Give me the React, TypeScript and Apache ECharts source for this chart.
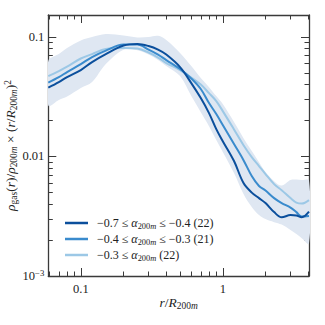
import React, { useEffect, useRef } from 'react';
import * as echarts from 'echarts';

// r / R200m sample points
const radius = [0.059, 0.07, 0.08, 0.1, 0.12, 0.15, 0.2, 0.25, 0.3, 0.35, 0.4, 0.5, 0.6, 0.7, 0.8, 0.9, 1.0, 1.2, 1.4, 1.6, 1.8, 2.0, 2.3, 2.6, 3.0, 3.3, 3.6, 4.05];
// -0.7 <= alpha <= -0.4 (22)
const profileLow = [0.0376, 0.0418, 0.046, 0.0527, 0.0614, 0.0716, 0.0844, 0.0869, 0.0836, 0.0781, 0.071, 0.0558, 0.041, 0.0307, 0.023, 0.0169, 0.0134, 0.00914, 0.00598, 0.00498, 0.00448, 0.00407, 0.00342, 0.0031, 0.00323, 0.0032, 0.0031, 0.00345];
// -0.4 <= alpha <= -0.3 (21)
const profileMid = [0.0414, 0.046, 0.0507, 0.0591, 0.0676, 0.0765, 0.086, 0.086, 0.0781, 0.071, 0.0638, 0.0537, 0.0448, 0.0366, 0.0279, 0.0226, 0.0183, 0.0127, 0.0093, 0.00684, 0.00565, 0.00518, 0.00448, 0.00407, 0.00373, 0.00342, 0.00314, 0.00317];
// -0.3 <= alpha (22)
const profileHigh = [0.0469, 0.0517, 0.0563, 0.0658, 0.0716, 0.079, 0.0805, 0.0797, 0.0738, 0.067, 0.0603, 0.0527, 0.0456, 0.0398, 0.0338, 0.029, 0.0239, 0.0168, 0.0124, 0.00986, 0.0083, 0.00711, 0.00586, 0.00522, 0.00448, 0.00411, 0.00403, 0.00431];
// scatter band
const bandUpper = [0.0627, 0.0716, 0.0805, 0.093, 0.0994, 0.1054, 0.1023, 0.0985, 0.0994, 0.1019, 0.0938, 0.0731, 0.0569, 0.0452, 0.0379, 0.0319, 0.0274, 0.0194, 0.0142, 0.0111, 0.00895, 0.0074, 0.0062, 0.0057, 0.00634, 0.0064, 0.00634, 0.00628];
const bandLower = [0.0266, 0.0296, 0.0316, 0.0373, 0.0418, 0.0591, 0.078, 0.077, 0.071, 0.064, 0.057, 0.0469, 0.0319, 0.0234, 0.0179, 0.0137, 0.0109, 0.00725, 0.00484, 0.00377, 0.00323, 0.00299, 0.00282, 0.00269, 0.00242, 0.00224, 0.00207, 0.00187];

const seriesNames = ['low', 'mid', 'high'];
const legendLabels = [
  '{n|\u22120.7 \u2264 }{i|\u03b1}{s|200}{si|m}{n| \u2264 \u22120.4 (22)}',
  '{n|\u22120.4 \u2264 }{i|\u03b1}{s|200}{si|m}{n| \u2264 \u22120.3 (21)}',
  '{n|\u22120.3 \u2264 }{i|\u03b1}{s|200}{si|m}{n| (22)}',
];

const xRange = [0.059, 4.05];
const yRange = [0.001, 0.152];
const xMajorTicks = [0.1, 1];
const xMinorTicks = [0.06, 0.07, 0.08, 0.09, 0.2, 0.3, 0.4, 0.5, 0.6, 0.7, 0.8, 0.9, 2, 3, 4];
const yMajorTicks = [0.001, 0.01, 0.1];
const yMinorTicks = [0.002, 0.003, 0.004, 0.005, 0.006, 0.007, 0.008, 0.009, 0.02, 0.03, 0.04, 0.05, 0.06, 0.07, 0.08, 0.09];

const FONT = 'Liberation Serif';
const FRAME = '#3a3a3a';
const TEXT = '#222';
const colors = ['#0b4f9c', '#3a8bcd', '#9cc8e6'];
const bandColor = '#dfe7f2';

const lg = (v: number) => Math.log10(v);

const rich = (size: number, shift: number) => ({
  n: { fontFamily: FONT, fontSize: size, color: TEXT },
  i: { fontFamily: FONT, fontSize: size, color: TEXT, fontStyle: 'italic' },
  s: { fontFamily: FONT, fontSize: size * 0.7, color: TEXT, padding: [shift, 0, 0, 0] },
  si: { fontFamily: FONT, fontSize: size * 0.7, color: TEXT, fontStyle: 'italic', padding: [shift, 0, 0, 0] },
  p: { fontFamily: FONT, fontSize: size * 0.7, color: TEXT, padding: [0, 0, shift, 0] },
});

export default function App() {
  const ref = useRef<HTMLDivElement>(null);
  useEffect(() => {
    if (!ref.current) return;
    const chart = echarts.init(ref.current, null, { renderer: 'svg' });

    const xMin = lg(xRange[0]);
    const xMax = lg(xRange[1]);
    const yMin = lg(yRange[0]);
    const yMax = lg(yRange[1]);

    const fmtX = (v: number) => {
      const p = Math.round(v);
      return String(Number(Math.pow(10, p).toPrecision(1)));
    };
    const fmtY = (v: number) => {
      const p = Math.round(v);
      if (p <= -3) return '{n|10}{p|\u2212' + String(-p) + '}';
      return '{n|' + String(Number(Math.pow(10, p).toPrecision(1))) + '}';
    };

    const lineStyleFrame = { color: FRAME, width: 1.3 };
    const tickStyle = { color: FRAME, width: 1 };

    const xBase = { type: 'value', min: xMin, max: xMax, splitLine: { show: false } };
    const yBase = { type: 'value', min: yMin, max: yMax, splitLine: { show: false } };

    const xAxis = [
      {
        ...xBase,
        position: 'bottom',
        axisLine: { show: true, onZero: false, lineStyle: lineStyleFrame },
        axisTick: { show: true, inside: true, length: 8, customValues: xMajorTicks.map(lg), lineStyle: tickStyle },
        axisLabel: { show: true, customValues: xMajorTicks.map(lg), formatter: fmtX, margin: 6, fontFamily: FONT, fontSize: 12.5, color: TEXT },
        name: '{i|r}{n|/}{i|R}{s|200}{si|m}',
        nameLocation: 'middle',
        nameGap: 18,
        nameMoveOverlap: false,
        nameTextStyle: { rich: rich(13.5, 7) },
      },
      {
        ...xBase,
        position: 'bottom',
        axisLine: { show: false, onZero: false },
        axisTick: { show: true, inside: true, length: 4.5, customValues: xMinorTicks.map(lg), lineStyle: tickStyle },
        axisLabel: { show: false },
      },
      {
        ...xBase,
        position: 'top',
        axisLine: { show: true, onZero: false, lineStyle: lineStyleFrame },
        axisTick: { show: true, inside: true, length: 8, customValues: xMajorTicks.map(lg), lineStyle: tickStyle },
        axisLabel: { show: false },
      },
      {
        ...xBase,
        position: 'top',
        axisLine: { show: false, onZero: false },
        axisTick: { show: true, inside: true, length: 4.5, customValues: xMinorTicks.map(lg), lineStyle: tickStyle },
        axisLabel: { show: false },
      },
    ];

    const yAxis = [
      {
        ...yBase,
        position: 'left',
        axisLine: { show: true, onZero: false, lineStyle: lineStyleFrame },
        axisTick: { show: true, inside: true, length: 8, customValues: yMajorTicks.map(lg), lineStyle: tickStyle },
        axisLabel: { show: true, customValues: yMajorTicks.map(lg), formatter: fmtY, margin: 4, rich: rich(12.5, 7) },
        name: '{i|\u03c1}{s|gas}{n|(}{i|r}{n|)/}{i|\u03c1}{s|200}{si|m}{n| \u00d7 (}{i|r}{n|/}{i|R}{s|200}{si|m}{n|)}{p|2}',
        nameLocation: 'middle',
        nameGap: 30,
        nameRotate: 90,
        nameMoveOverlap: false,
        nameTextStyle: { rich: rich(13.5, 6) },
      },
      {
        ...yBase,
        position: 'left',
        axisLine: { show: false, onZero: false },
        axisTick: { show: true, inside: true, length: 4.5, customValues: yMinorTicks.map(lg), lineStyle: tickStyle },
        axisLabel: { show: false },
      },
      {
        ...yBase,
        position: 'right',
        axisLine: { show: true, onZero: false, lineStyle: lineStyleFrame },
        axisTick: { show: true, inside: true, length: 8, customValues: yMajorTicks.map(lg), lineStyle: tickStyle },
        axisLabel: { show: false },
      },
      {
        ...yBase,
        position: 'right',
        axisLine: { show: false, onZero: false },
        axisTick: { show: true, inside: true, length: 4.5, customValues: yMinorTicks.map(lg), lineStyle: tickStyle },
        axisLabel: { show: false },
      },
    ];

    const lineSeries = (name: string, values: number[], color: string, z: number) => ({
      name,
      type: 'line',
      xAxisIndex: 0,
      yAxisIndex: 0,
      data: radius.map((r, i) => [lg(r), lg(values[i])]),
      smooth: 0.35,
      symbol: 'none',
      color,
      lineStyle: { color, width: 2 },
      itemStyle: { color },
      z,
    });

    const option = {
      animation: false,
      grid: { left: 48.3, top: 15, right: 16, bottom: 49, containLabel: false, outerBoundsMode: 'none' },
      xAxis,
      yAxis,
      legend: {
        data: seriesNames,
        orient: 'vertical',
        left: 60,
        top: 212,
        itemWidth: 23,
        itemHeight: 2.5,
        itemGap: 2.5,
        icon: 'rect',
        formatter: (name: string) => legendLabels[seriesNames.indexOf(name)],
        textStyle: { fontFamily: FONT, fontSize: 12, color: TEXT, padding: [0, 0, 0, 4], rich: rich(12, 7) },
      },
      series: [
        {
          name: 'band',
          type: 'custom',
          xAxisIndex: 0,
          yAxisIndex: 0,
          data: radius.map((r, i) => [lg(r), lg(bandUpper[i]), lg(bandLower[i])]),
          encode: { x: 0, y: [1, 2] },
          clip: true,
          silent: true,
          z: 1,
          renderItem: (params: any, api: any) => {
            if (params.dataIndex !== 0) return null;
            const up = radius.map((r, i) => api.coord([lg(r), lg(bandUpper[i])]));
            const lo = radius.map((r, i) => api.coord([lg(r), lg(bandLower[i])])).reverse();
            return {
              type: 'polygon',
              shape: { points: up.concat(lo), smooth: 0.35 },
              style: { fill: bandColor, stroke: null },
              silent: true,
            };
          },
        },
        lineSeries('high', profileHigh, colors[2], 2),
        lineSeries('mid', profileMid, colors[1], 3),
        lineSeries('low', profileLow, colors[0], 4),
      ],
    };

    chart.setOption(option as any);
    return () => chart.dispose();
  }, []);

  return <div ref={ref} style={{ position: 'absolute', left: 0, top: 0, width: 325, height: 325 }} />;
}
